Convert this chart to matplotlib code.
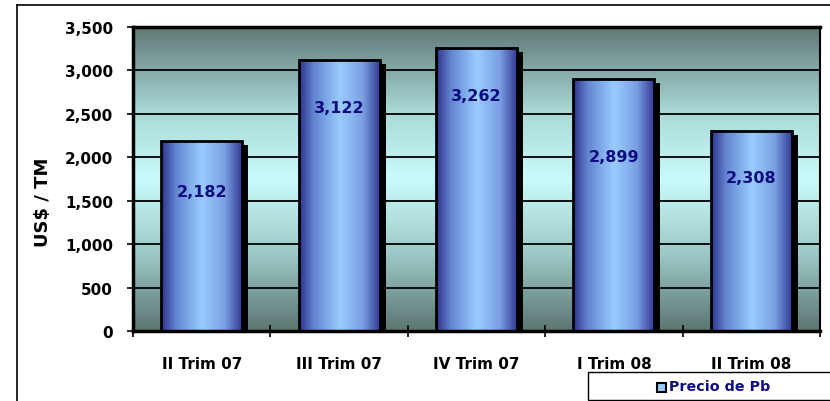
import numpy as np
import matplotlib
matplotlib.use('Agg')
import matplotlib.pyplot as plt
from matplotlib.colors import LinearSegmentedColormap
from matplotlib.patches import Rectangle
from matplotlib.lines import Line2D

# data
categories = ['II Trim 07', 'III Trim 07', 'IV Trim 07', 'I Trim 08', 'II Trim 08']
precio_pb = [2182, 3122, 3262, 2899, 2308]
series_name = 'Precio de Pb'
y_ticks = [0, 500, 1000, 1500, 2000, 2500, 3000, 3500]

# layout (how far below the bar top each value label sits, in data units)
label_drop = [580, 545, 555, 885, 545]

plt.rcParams['font.family'] = ['DejaVu Sans']
fig = plt.figure(figsize=(8.3, 4.02), dpi=100)
W, H = 830, 402
ax = fig.add_axes([133 / W, 1 - 332 / H, 687 / W, 304 / H])

# outer chart border (only top and left visible)
fig.add_artist(Line2D([17 / W, 1.01], [1 - 6 / H, 1 - 6 / H], color='black', lw=1.2, transform=fig.transFigure))
fig.add_artist(Line2D([17 / W, 17 / W], [-0.01, 1 - 6 / H], color='black', lw=1.2, transform=fig.transFigure))

ymax = 3500
x = np.arange(len(categories))

# background gradient: dark at top and bottom, light cyan in the middle
bg_cmap = LinearSegmentedColormap.from_list('bg', [
    (0.0, '#5b7572'), (0.25, '#9cc8c5'), (0.5, '#c9fbfa'), (0.72, '#aad9d7'), (1.0, '#5f7976')])
grad = np.linspace(0, 1, 256).reshape(-1, 1)
ax.imshow(grad, cmap=bg_cmap, aspect='auto', origin='lower',
          extent=[-0.5, len(categories) - 0.5, 0, ymax], zorder=0)

# bar gradient (horizontal)
bar_cmap = LinearSegmentedColormap.from_list('bar', [
    (0.0, '#2c308c'), (0.18, '#6385d0'), (0.5, '#99ccff'), (0.78, '#7a9fe2'), (1.0, '#303590')])
hgrad = np.linspace(0, 1, 256).reshape(1, -1)

bw = 0.59
dx = 6 / 137.4
dy = 4 * ymax / 304
for i, v in enumerate(precio_pb):
    x0 = x[i] - bw / 2
    ax.add_patch(Rectangle((x0 + dx, 0), bw, v - dy, facecolor='black', edgecolor='none', zorder=2.5))
    ax.imshow(hgrad, cmap=bar_cmap, aspect='auto', extent=[x0, x0 + bw, 0, v], zorder=3)
    ax.add_patch(Rectangle((x0, 0), bw, v, fill=False, edgecolor='black', lw=2, zorder=4))
    ax.text(x[i], v - label_drop[i], f'{v:,}', ha='center', va='center',
            color='#0d0d80', fontsize=11.5, fontweight='bold', zorder=5)

ax.set_xlim(-0.5, len(categories) - 0.5)
ax.set_ylim(0, ymax)

for yv in y_ticks[1:-1]:
    ax.axhline(yv, color='black', lw=1.3, zorder=1)

ax.set_yticks(y_ticks)
ax.set_yticklabels([f'{t:,}' for t in y_ticks], fontsize=11, fontweight='bold')
ax.tick_params(axis='y', direction='out', length=4.5, width=1.2, pad=10)

ax.set_xticks(x)
ax.set_xticklabels(categories, fontsize=11, fontweight='bold')
ax.tick_params(axis='x', which='major', length=0, pad=18)
ax.set_xticks(np.arange(-0.5, len(categories)), minor=True)
ax.tick_params(axis='x', which='minor', direction='inout', length=9, width=1.2)

for side in ['left', 'top', 'bottom']:
    ax.spines[side].set_linewidth(2.5)
ax.spines['right'].set_linewidth(1.5)
for s in ax.spines.values():
    s.set_zorder(6)

fig.text(43 / W, 1 - 202 / H, 'US$ / TM', rotation=90, ha='center', va='center',
         fontsize=13, fontweight='bold')

# legend box
fig.add_artist(Rectangle((588 / W, 1 - 401 / H), 0.4, 28 / H, transform=fig.transFigure,
                         facecolor='white', edgecolor='black', lw=1))
fig.add_artist(Rectangle((657 / W, 1 - 393 / H), 9 / W, 9 / H, transform=fig.transFigure,
                         facecolor='#99ccff', edgecolor='black', lw=1.5))
fig.text(669 / W, 1 - 387 / H, series_name, ha='left', va='center', color='#0d0d80',
         fontsize=10.3, fontweight='bold')

fig.savefig('out.png', dpi=100)
